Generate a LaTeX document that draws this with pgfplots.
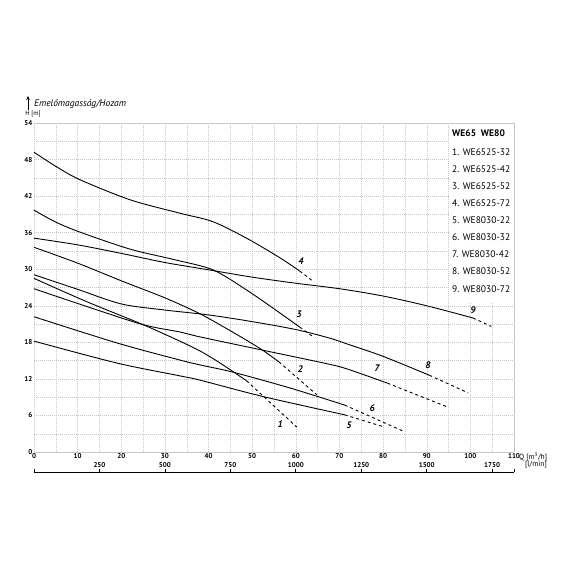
\documentclass[border=0pt]{standalone}
\usepackage{fontspec}
\setmainfont{PT Sans}
\usepackage{pgfplots}
\pgfplotsset{compat=1.18}
\usetikzlibrary{arrows.meta}

\begin{document}
\begin{tikzpicture}
\useasboundingbox (-34pt,-118pt) rectangle (536pt,452pt);
\begin{axis}[
 at={(0pt,0pt)}, anchor=south west,
 scale only axis, width=480pt, height=329pt,
 xmin=0,xmax=110,ymin=0,ymax=54,
 xtick={0,10,...,110}, minor xtick={5,15,...,105},
 ytick={0,6,...,54}, minor ytick={3,9,...,51},
 grid=both,
 major grid style={gray!45, line width=0.4pt, dash pattern=on 1pt off 1pt},
 minor grid style={gray!45, line width=0.4pt, dash pattern=on 1pt off 1pt},
 axis line style={gray!45, line width=0.4pt, dash pattern=on 1pt off 1pt},
 major tick length=0pt, minor tick length=0pt,
 tick label style={font=\fontsize{7}{8}\selectfont\bfseries},
 /pgf/number format/assume math mode=true,
 xticklabel style={inner sep=1pt},
 yticklabel style={inner sep=1.5pt},
 clip=false,
 every axis plot/.append style={black, line width=0.9pt},
]
% legend background
\fill[white] (axis cs:95.12,24.5) rectangle (axis cs:109.9,53.9);

% curve 4
\addplot[smooth] coordinates {(0,49.2) (5.2,46.8) (10.5,44.7) (22,41.4) (33.4,39.2) (41,37.8) (48.7,35.1) (56.3,31.9) (60.9,29.7)};
\addplot[dash pattern=on 3pt off 3pt] coordinates {(60.9,29.7) (63.8,28.1)};
% curve 3
\addplot[smooth] coordinates {(0,39.7) (4.8,37.8) (10.5,36.1) (22,33.3) (32,31.6) (41,29.9) (48.7,26.6) (54.8,23.6) (60.9,20.5)};
\addplot[dash pattern=on 3pt off 3pt] coordinates {(60.9,20.5) (63.8,19.0)};
% curve 9
\addplot[smooth] coordinates {(0,35.1) (10,34.0) (20,32.6) (30,31.1) (40,29.9) (50,28.7) (60,27.7) (70,26.8) (80,25.6) (90,24.0) (100.6,22.0)};
\addplot[dash pattern=on 3pt off 3pt] coordinates {(100.6,22.0) (104.8,20.6)};
% curve 2
\addplot[smooth] coordinates {(0,33.6) (10,31.0) (20,28.1) (30,25.3) (38,22.7) (45,19.9) (52,16.9) (56.1,14.8)};
\addplot[dash pattern=on 3pt off 3pt] coordinates {(56.1,14.8) (64.8,9.4)};
% curve 8
\addplot[smooth] coordinates {(0,29.1) (10,26.7) (20,24.3) (30,23.3) (40,22.5) (50,21.4) (60,20.1) (67.7,18.7) (72.3,17.6) (80,15.7) (90.6,12.6)};
\addplot[dash pattern=on 3pt off 3pt] coordinates {(90.6,12.6) (99.5,9.7)};
% curve 7
\addplot[smooth] coordinates {(0,26.8) (12,23.9) (25,20.9) (33.4,19.7) (38,18.9) (52.5,16.7) (67.7,14.4) (72.3,13.5) (81,11.3)};
\addplot[dash pattern=on 3pt off 3pt] coordinates {(81,11.3) (94.7,7.4)};
% curve 1
\addplot[smooth] coordinates {(0,28.5) (12,24.7) (25,20.9) (33.4,18.2) (38,16.6) (42,14.9) (45.6,13.2) (48.7,11.7)};
\addplot[dash pattern=on 3pt off 3pt] coordinates {(48.7,11.7) (60.2,4.1)};
% curve 6
\addplot[smooth] coordinates {(0,22.2) (19,17.9) (33.4,15.1) (38,14.3) (45.6,13.1) (58.7,10.5) (71.2,7.7)};
\addplot[dash pattern=on 3pt off 3pt] coordinates {(71.2,7.7) (85,3.3)};
% curve 5
\addplot[smooth] coordinates {(0,18.2) (19,14.6) (33.4,12.5) (38,11.8) (52.5,9.1) (71.2,6.1)};
\addplot[dash pattern=on 3pt off 3pt] coordinates {(71.2,6.1) (80.3,4.1)};

% curve labels
\begin{scope}[every node/.style={font=\fontsize{9.5}{10}\selectfont\bfseries\itshape, inner sep=0pt}]
\node at (axis cs:56.4,4.6) {1};
\node at (axis cs:61,13.6) {2};
\node at (axis cs:60.7,22.6) {3};
\node at (axis cs:61.2,31.3) {4};
\node at (axis cs:72.2,4.4) {5};
\node at (axis cs:77.5,7.2) {6};
\node at (axis cs:78.6,13.8) {7};
\node at (axis cs:90.3,14.3) {8};
\node at (axis cs:100.6,23.3) {9};
\end{scope}

% legend text
\begin{scope}[every node/.style={font=\fontsize{9.5}{10}\selectfont, inner sep=0pt, anchor=west}]
\node[font=\fontsize{9.5}{10}\selectfont\bfseries] at (axis cs:95.8,52.36) {WE65\ \ WE80};
\node at (axis cs:95.8,49.24) {1. WE6525-32};
\node at (axis cs:95.8,46.43) {2. WE6525-42};
\node at (axis cs:95.8,43.63) {3. WE6525-52};
\node at (axis cs:95.8,40.82) {4. WE6525-72};
\node at (axis cs:95.8,38.02) {5. WE8030-22};
\node at (axis cs:95.8,35.21) {6. WE8030-32};
\node at (axis cs:95.8,32.41) {7. WE8030-42};
\node at (axis cs:95.8,29.60) {8. WE8030-52};
\node at (axis cs:95.8,26.78) {9. WE8030-72};
\end{scope}

% secondary l/min axis
\draw[black, line width=0.7pt] ([yshift=-20pt]axis cs:0,0) -- ([yshift=-20pt]axis cs:110,0);
\pgfplotsinvokeforeach{0,15,30,45,60,75,90,105,110}{
  \draw[black, line width=0.7pt] ([yshift=-20pt]axis cs:#1,0) -- ([yshift=-17pt]axis cs:#1,0);
}
\begin{scope}[every node/.style={font=\fontsize{7}{8}\selectfont\bfseries, inner sep=0pt}]
\node at ([yshift=-13pt]axis cs:15,0) {250};
\node at ([yshift=-13pt]axis cs:30,0) {500};
\node at ([yshift=-13pt]axis cs:45,0) {750};
\node at ([yshift=-13pt]axis cs:60,0) {1000};
\node at ([yshift=-13pt]axis cs:75,0) {1250};
\node at ([yshift=-13pt]axis cs:90,0) {1500};
\node at ([yshift=-13pt]axis cs:105,0) {1750};
\end{scope}
\end{axis}

% outside texts
\node[anchor=west, inner sep=0pt, font=\fontsize{7.5}{8}\selectfont] at (485pt,-5pt) {Q [m\textsuperscript{3}/h]};
\node[anchor=east, inner sep=0pt, font=\fontsize{7.5}{8}\selectfont] at (513pt,-13pt) {[l/min]};
\node[anchor=west, inner sep=0pt, font=\fontsize{9.5}{10}\selectfont\itshape] at (0pt,348pt) {Emelőmagasság/Hozam};
\node[inner sep=0pt, font=\fontsize{6.5}{7}\selectfont] at (-1pt,338pt) {H [m]};
\draw[line width=0.6pt, -{Stealth[length=4pt,width=3.5pt]}] (-6pt,342pt) -- (-6pt,356pt);
\end{tikzpicture}
\end{document}
